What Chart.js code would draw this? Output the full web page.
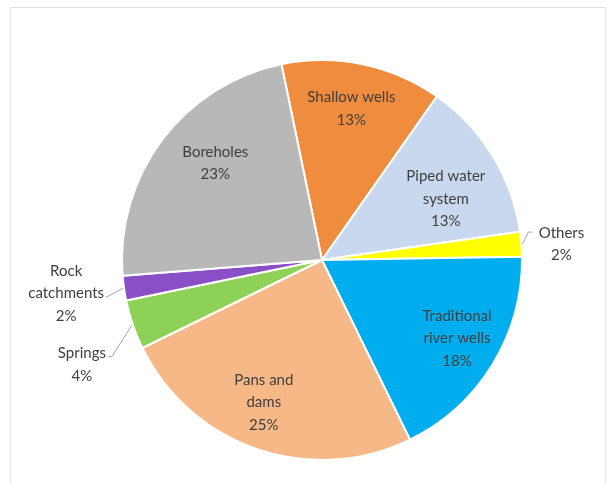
<!DOCTYPE html>
<html>
<head>
<meta charset="utf-8">
<script src="https://cdn.jsdelivr.net/npm/chart.js@4"></script>
<style>
    html, body { margin: 0; padding: 0; background: #fff; }
    #frame {
        position: absolute; left: 10px; top: 7px; width: 594px; height: 490px;
        border: 1px solid #e2e2e2; border-bottom: none;
    }
    #wrap { position: absolute; left: 0; top: 0; width: 611px; height: 483px; }
</style>
</head>
<body>
<div id="frame"></div>
<div id="wrap"><canvas id="sourcesChart" width="611" height="483"></canvas></div>
<script>
// water sources, clockwise starting near 12 o'clock
const sourceLabels = [
    ['Shallow wells'],
    ['Piped water', 'system'],
    ['Others'],
    ['Traditional', 'river wells'],
    ['Pans and', 'dams'],
    ['Springs'],
    ['Rock', 'catchments'],
    ['Boreholes']
];
const sourceShares = [13, 13, 2, 18, 25, 4, 2, 23];
const sliceColors = ['#f08c3e', '#c9d8ee', '#ffff00', '#00aeef', '#f6b887', '#8dd157', '#8a4fc6', '#b8b8b8'];

// label placement: [angle offset (deg) from slice middle, radius factor, outside?]
const labelPlacement = [
    [-0.7, 0.77, false],
    [5.3, 0.69, false],
    [0.7, 1.20, true],
    [-1.4, 0.78, false],
    [3.3, 0.77, false],
    [-4.7, 1.31, true],
    [0.7, 1.29, true],
    [5.3, 0.72, false]
];

const pieLabels = {
    id: 'pieLabels',
    afterDatasetsDraw(chart) {
        const ctx = chart.ctx;
        const meta = chart.getDatasetMeta(0);
        ctx.save();
        ctx.font = '15px Lato';
        ctx.fillStyle = '#404040';
        ctx.textAlign = 'center';
        ctx.textBaseline = 'middle';
        meta.data.forEach((arc, i) => {
            const p = arc.getProps(['x', 'y', 'startAngle', 'endAngle', 'outerRadius'], true);
            const mid = (p.startAngle + p.endAngle) / 2;
            const [offDeg, rf, outside] = labelPlacement[i];
            const a = mid + offDeg * Math.PI / 180;
            const lx = p.x + Math.cos(a) * p.outerRadius * rf;
            const ly = p.y + Math.sin(a) * p.outerRadius * rf;
            const lines = sourceLabels[i].concat([sourceShares[i] + '%']);
            const lh = 22.5;
            const top = ly - (lines.length - 1) * lh / 2;
            lines.forEach((t, k) => ctx.fillText(t, lx, top + k * lh));

            if (outside) {
                // leader line from the slice edge to the label
                const ex = p.x + Math.cos(mid) * (p.outerRadius + 1);
                const ey = p.y + Math.sin(mid) * (p.outerRadius + 1);
                ctx.strokeStyle = '#a6a6a6';
                ctx.lineWidth = 1;
                ctx.beginPath();
                if (i === 2) {
                    ctx.moveTo(ex, ey);
                    ctx.lineTo(ex + 6, ly - 12);
                    ctx.lineTo(ex + 10, ly - 12);
                } else if (i === 5) {
                    const w = ctx.measureText(lines[0]).width;
                    ctx.moveTo(ex, ey);
                    ctx.lineTo(lx + w / 2 + 6, top + 3);
                    ctx.lineTo(lx + w / 2 + 2, top + 3);
                } else {
                    const w = ctx.measureText(lines[1]).width;
                    ctx.moveTo(ex, ey);
                    ctx.lineTo(lx + w / 2 + 2, top + lh + 4);
                }
                ctx.stroke();
            }
        });
        ctx.restore();
    }
};

new Chart(document.getElementById('sourcesChart'), {
    type: 'pie',
    data: {
        labels: sourceLabels.map(l => l.join(' ')),
        datasets: [{
            data: sourceShares,
            backgroundColor: sliceColors,
            borderColor: '#ffffff',
            borderWidth: 2
        }]
    },
    options: {
        responsive: false,
        animation: false,
        rotation: -11.7,
        layout: {
            padding: { left: 121, right: 88, top: 59, bottom: 22 }
        },
        plugins: {
            legend: { display: false },
            tooltip: { enabled: false }
        }
    },
    plugins: [pieLabels]
});
</script>
</body>
</html>
